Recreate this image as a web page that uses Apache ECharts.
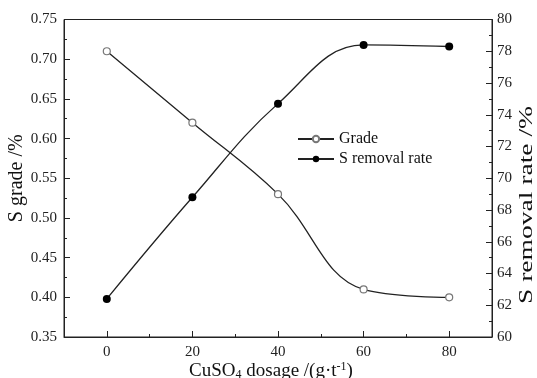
<!DOCTYPE html>
<html>
<head>
<meta charset="utf-8">
<script src="https://cdn.jsdelivr.net/npm/echarts@6/dist/echarts.min.js"></script>
<style>html,body{margin:0;padding:0;background:#fff}#c{width:537px;height:378px}</style>
</head>
<body>
<div id="c"></div>
<script>
const dosage = [0, 20, 40, 60, 80];
const grade = [0.71, 0.62, 0.53, 0.41, 0.40];
const removal = [62.4, 68.8, 74.7, 78.4, 78.3];
const xTickLabels = [0, 20, 40, 60, 80];
const xMinorTicks = [10, 30, 50, 70];

const FONT = 'Liberation Serif';
const chart = echarts.init(document.getElementById('c'));
const axisLine = {show: true, onZero: false, lineStyle: {color: '#222', width: 1}};
chart.setOption({
  animation: false,
  backgroundColor: '#fff',
  textStyle: {fontFamily: FONT},
  grid: {left: 64, right: 45, top: 19.5, bottom: 41, show: true, borderColor: '#222', borderWidth: 1, outerBoundsMode: 'none', containLabel: false},
  legend: {
    orient: 'vertical', left: 292, top: 126, itemGap: 4, itemWidth: 36, itemHeight: 8,
    textStyle: {fontFamily: FONT, fontSize: 16, color: '#111'},
    data: ['Grade', 'S removal rate']
  },
  graphic: [{
    type: 'text', x: 527, y: 205, rotation: Math.PI / 2, scaleX: 1.45,
    style: {text: 'S removal rate /%', font: '19px "Liberation Serif"', fill: '#111', align: 'center', verticalAlign: 'middle'}
  }],
  xAxis: [{
    type: 'value', min: -10, max: 90, interval: 10,
    axisLine: axisLine,
    splitLine: {show: false},
    axisTick: {inside: true, length: 6, customValues: xTickLabels, lineStyle: {color: '#222'}},
    axisLabel: {customValues: xTickLabels, fontFamily: FONT, fontSize: 15, color: '#222', margin: 8},
    name: '{a|CuSO}{sub|4}{a| dosage /(g·t}{sup|-1}{a|)}',
    nameLocation: 'middle', nameGap: 24, nameMoveOverlap: false,
    nameTextStyle: {
      padding: [0, 14, 0, 0],
      rich: {
        a: {fontFamily: FONT, fontSize: 19, color: '#111'},
        sub: {fontFamily: FONT, fontSize: 12, color: '#111', verticalAlign: 'bottom', padding: [8, 0, 0, 0]},
        sup: {fontFamily: FONT, fontSize: 12, color: '#111', verticalAlign: 'top', padding: [0, 0, 8, 0]}
      }
    }
  }, {
    type: 'value', min: -10, max: 90, position: 'bottom',
    axisLine: {show: false}, splitLine: {show: false}, axisLabel: {show: false},
    axisTick: {show: true, inside: true, length: 3, customValues: xMinorTicks, lineStyle: {color: '#222'}}
  }],
  yAxis: [{
    type: 'value', min: 0.35, max: 0.75, interval: 0.05, position: 'left',
    axisLine: axisLine, splitLine: {show: false},
    axisTick: {show: true, inside: true, length: 6, lineStyle: {color: '#222'}},
    minorTick: {show: true, splitNumber: 2, length: 3, lineStyle: {color: '#222'}},
    axisLabel: {fontFamily: FONT, fontSize: 15, color: '#222', margin: 7, formatter: v => v.toFixed(2)},
    name: 'S grade /%', nameLocation: 'middle', nameGap: 37, nameMoveOverlap: false,
    nameTextStyle: {fontFamily: FONT, fontSize: 20, color: '#111'}
  }, {
    type: 'value', min: 60, max: 80, interval: 2, position: 'right',
    axisLine: axisLine, splitLine: {show: false},
    axisTick: {show: true, inside: true, length: 6, lineStyle: {color: '#222'}},
    minorTick: {show: true, splitNumber: 2, length: 3, lineStyle: {color: '#222'}},
    axisLabel: {fontFamily: FONT, fontSize: 15, color: '#222', margin: 5}
  }],
  series: [{
    name: 'Grade', type: 'line', smooth: 0.4, xAxisIndex: 0, yAxisIndex: 0,
    data: dosage.map((d, i) => [d, grade[i]]),
    symbol: 'circle', symbolSize: 7,
    lineStyle: {color: '#222', width: 1.3},
    itemStyle: {color: '#fff', borderColor: '#777', borderWidth: 1.2}
  }, {
    name: 'S removal rate', type: 'line', smooth: 0.4, xAxisIndex: 0, yAxisIndex: 1,
    data: dosage.map((d, i) => [d, removal[i]]),
    symbol: 'circle', symbolSize: 8,
    lineStyle: {color: '#222', width: 1.3},
    itemStyle: {color: '#000', borderColor: '#000', borderWidth: 0}
  }]
});
</script>
</body>
</html>
